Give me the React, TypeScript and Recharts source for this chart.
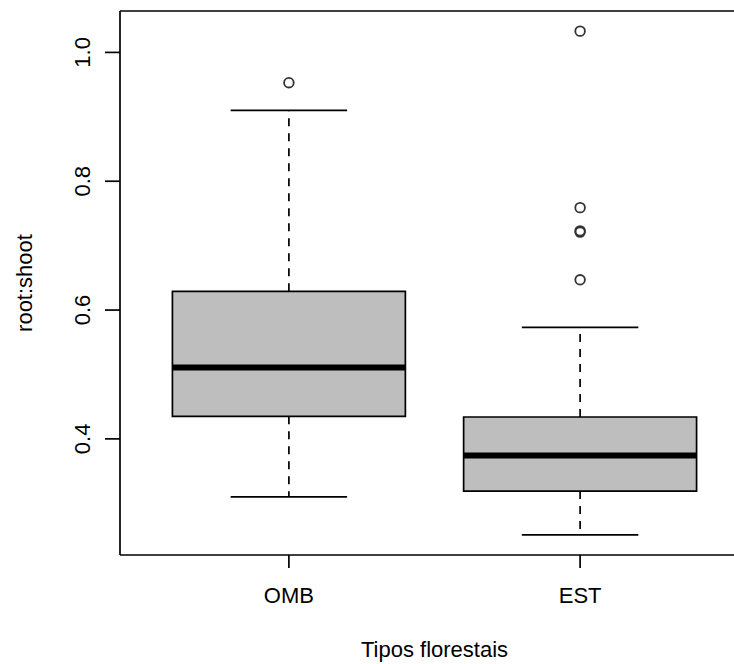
import React from 'react';
import {
  ComposedChart,
  XAxis,
  YAxis,
  Scatter,
  ReferenceArea,
  ReferenceLine,
  Label,
} from 'recharts';

// ---- data ----
const categories = ['OMB', 'EST'];
const whiskerLow = [0.310, 0.251];
const q1 = [0.435, 0.319];
const median = [0.511, 0.374];
const q3 = [0.629, 0.434];
const whiskerHigh = [0.910, 0.573];
const outliersOMB = [0.953];
const outliersEST = [1.033, 0.759, 0.723, 0.721, 0.647];

const yTicks = [0.4, 0.6, 0.8, 1.0];
const xLabel = 'Tipos florestais';
const yLabel = 'root:shoot';

// ---- derived ----
const positions = categories.map((_, i) => i + 1);
const outlierPoints = [
  ...outliersOMB.map((y) => ({ x: 1, y })),
  ...outliersEST.map((y) => ({ x: 2, y })),
];
const allVals = [...whiskerLow, ...whiskerHigh, ...outliersOMB, ...outliersEST];
const yMin = Math.min(...allVals);
const yMax = Math.max(...allVals);
const yPad = (yMax - yMin) * 0.04;
const yDomain: [number, number] = [yMin - yPad, yMax + yPad];
const xDomain: [number, number] = [0.5 - 0.08, categories.length + 0.5 + 0.08];

const BOX_HALF = 0.4;
const CAP_HALF = 0.2;
const FONT = "'Liberation Sans', Arial, Helvetica, sans-serif";
const FS = 22;
const LW = 1.7;

const YTick = (props: any) => {
  const { x, y, payload } = props;
  const tx = x - 13;
  return (
    <text
      x={tx}
      y={y}
      transform={`rotate(-90, ${tx}, ${y})`}
      textAnchor="middle"
      fontFamily={FONT}
      fontSize={FS}
      fill="#000"
    >
      {payload.value.toFixed(1)}
    </text>
  );
};

const XTick = (props: any) => {
  const { x, y, payload } = props;
  return (
    <text x={x} y={y + 33} textAnchor="middle" fontFamily={FONT} fontSize={FS} fill="#000">
      {categories[payload.value - 1]}
    </text>
  );
};

const Circle = (props: any) => {
  const { cx, cy } = props;
  return <circle cx={cx} cy={cy} r={4.8} fill="none" stroke="#333" strokeWidth={1.8} />;
};

const seg = (x1: number, y1: number, x2: number, y2: number) => [
  { x: x1, y: y1 },
  { x: x2, y: y2 },
];

export default function App() {
  return (
    <div
      style={{
        position: 'absolute',
        left: 0,
        top: 0,
        width: 734,
        height: 664,
        overflow: 'hidden',
        background: '#fff',
      }}
    >
      <ComposedChart
        width={760}
        height={664}
        margin={{ top: 11, right: 11, bottom: 0, left: 0 }}
        data={outlierPoints}
      >
        <XAxis
          type="number"
          dataKey="x"
          domain={xDomain}
          ticks={positions}
          allowDataOverflow
          height={109}
          tickSize={13}
          axisLine={false}
          tickLine={{ stroke: '#000', strokeWidth: LW }}
          tick={<XTick />}
        >
          <Label
            content={(p: any) => {
              const vb = p.viewBox;
              return (
                <text
                  x={vb.x + vb.width / 2}
                  y={vb.y + 102}
                  textAnchor="middle"
                  fontFamily={FONT}
                  fontSize={FS}
                  fill="#000"
                >
                  {xLabel}
                </text>
              );
            }}
          />
        </XAxis>
        <YAxis
          type="number"
          dataKey="y"
          domain={yDomain}
          ticks={yTicks}
          allowDataOverflow
          width={120}
          tickSize={15}
          axisLine={false}
          tickLine={{ stroke: '#000', strokeWidth: LW }}
          tick={<YTick />}
        >
          <Label
            content={(p: any) => {
              const vb = p.viewBox;
              const cx = 32;
              const cy = vb.y + vb.height / 2;
              return (
                <text
                  x={cx}
                  y={cy}
                  transform={`rotate(-90, ${cx}, ${cy})`}
                  textAnchor="middle"
                  fontFamily={FONT}
                  fontSize={FS}
                  fill="#000"
                >
                  {yLabel}
                </text>
              );
            }}
          />
        </YAxis>

        {/* plot frame */}
        <ReferenceLine segment={seg(xDomain[0], yDomain[1], xDomain[1], yDomain[1])} stroke="#000" strokeWidth={LW} ifOverflow="visible" />
        <ReferenceLine segment={seg(xDomain[0], yDomain[0], xDomain[1], yDomain[0])} stroke="#000" strokeWidth={LW} ifOverflow="visible" />
        <ReferenceLine segment={seg(xDomain[0], yDomain[0], xDomain[0], yDomain[1])} stroke="#000" strokeWidth={LW} ifOverflow="visible" />
        <ReferenceLine segment={seg(xDomain[1], yDomain[0], xDomain[1], yDomain[1])} stroke="#000" strokeWidth={LW} ifOverflow="visible" />

        {/* boxes */}
        {positions.map((p, i) => (
          <ReferenceArea
            key={`box-${i}`}
            x1={p - BOX_HALF}
            x2={p + BOX_HALF}
            y1={q1[i]}
            y2={q3[i]}
            fill="#bebebe"
            fillOpacity={1}
            stroke="#000"
            strokeWidth={LW}
          />
        ))}

        {/* whiskers */}
        {positions.map((p, i) => (
          <ReferenceLine
            key={`wh-${i}`}
            segment={seg(p, q3[i], p, whiskerHigh[i])}
            stroke="#000"
            strokeWidth={LW}
            strokeDasharray="8 7"
          />
        ))}
        {positions.map((p, i) => (
          <ReferenceLine
            key={`wl-${i}`}
            segment={seg(p, q1[i], p, whiskerLow[i])}
            stroke="#000"
            strokeWidth={LW}
            strokeDasharray="8 7"
          />
        ))}

        {/* caps */}
        {positions.map((p, i) => (
          <ReferenceLine
            key={`ch-${i}`}
            segment={seg(p - CAP_HALF, whiskerHigh[i], p + CAP_HALF, whiskerHigh[i])}
            stroke="#000"
            strokeWidth={LW}
          />
        ))}
        {positions.map((p, i) => (
          <ReferenceLine
            key={`cl-${i}`}
            segment={seg(p - CAP_HALF, whiskerLow[i], p + CAP_HALF, whiskerLow[i])}
            stroke="#000"
            strokeWidth={LW}
          />
        ))}

        {/* medians */}
        {positions.map((p, i) => (
          <ReferenceLine
            key={`med-${i}`}
            segment={seg(p - BOX_HALF, median[i], p + BOX_HALF, median[i])}
            stroke="#000"
            strokeWidth={6}
          />
        ))}

        <Scatter
          data={outlierPoints}
          dataKey="y"
          shape={<Circle />}
          isAnimationActive={false}
        />
      </ComposedChart>
    </div>
  );
}
